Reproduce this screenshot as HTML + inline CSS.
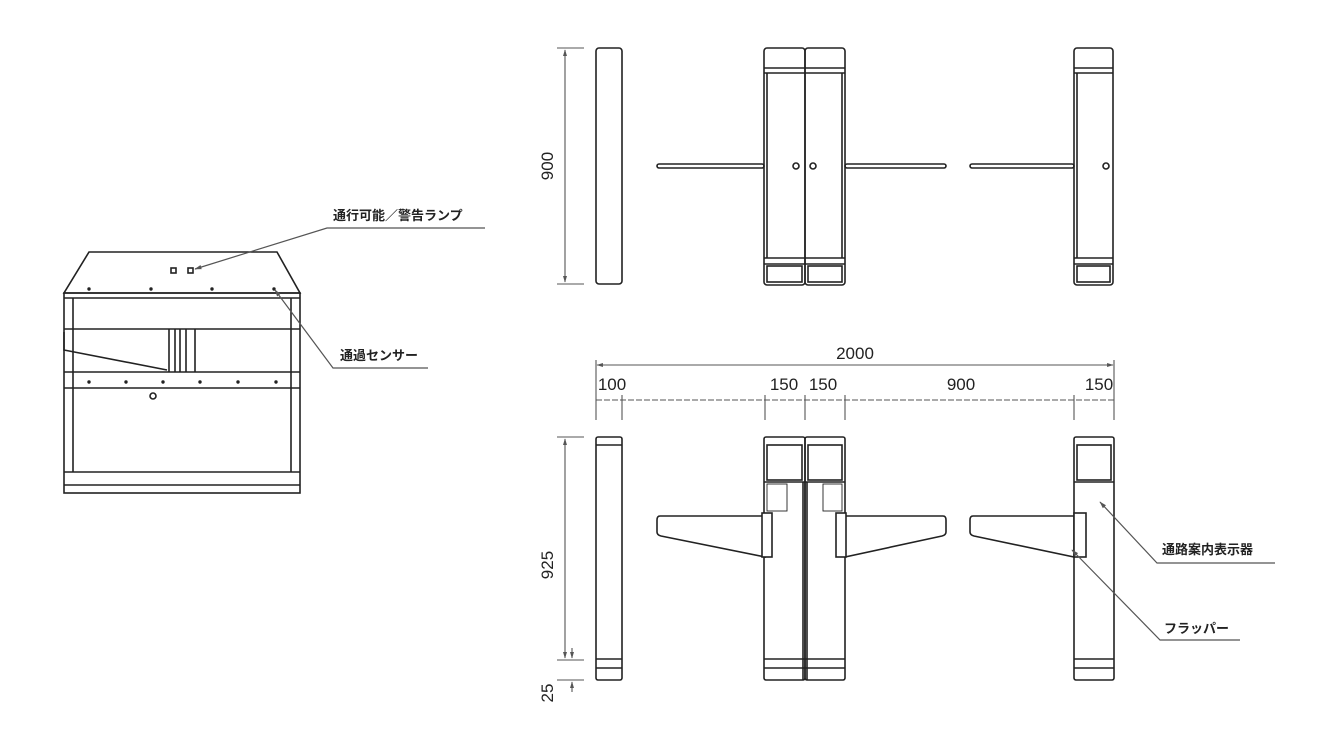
<!DOCTYPE html>
<html><head><meta charset="utf-8"><style>
html,body{margin:0;padding:0;background:#fff;}
svg{display:block;}
text{font-family:"Liberation Sans","Noto Sans CJK JP",sans-serif;fill:#222;}
</style></head><body>
<svg width="1340" height="756" viewBox="0 0 1340 756" xmlns="http://www.w3.org/2000/svg">
<defs>
<marker id="ar" viewBox="0 0 10 10" refX="9" refY="5" markerWidth="6" markerHeight="6" orient="auto-start-reverse"><path d="M0,2 L10,5 L0,8 z" fill="#555"/></marker>
</defs>
<g fill="none" stroke="#222" stroke-width="1.6">
<path d="M89,252 L277,252 L300,293 L64,293 Z"/>
<rect x="64" y="293" width="236" height="200"/>
<line x1="73" y1="298" x2="73" y2="472"/><line x1="291" y1="298" x2="291" y2="472"/>
<line x1="64" y1="298" x2="300" y2="298"/>
<line x1="64" y1="329" x2="300" y2="329"/>
<line x1="64" y1="372" x2="300" y2="372"/>
<line x1="64" y1="388" x2="300" y2="388"/>
<line x1="64" y1="472" x2="300" y2="472"/>
<line x1="64" y1="485" x2="300" y2="485"/>
<path d="M64,332 L64,350 L167,370"/>
<line x1="169" y1="329" x2="169" y2="372"/><line x1="175" y1="329" x2="175" y2="372"/>
<line x1="180" y1="329" x2="180" y2="372"/><line x1="186" y1="329" x2="186" y2="372"/>
<line x1="195" y1="329" x2="195" y2="372"/>
<rect x="171" y="268" width="5" height="5"/><rect x="188" y="268" width="5" height="5"/>
<circle cx="153" cy="396" r="3"/>
</g>
<g fill="#222">
<circle cx="89" cy="289" r="1.7"/><circle cx="151" cy="289" r="1.7"/><circle cx="212" cy="289" r="1.7"/><circle cx="274" cy="289" r="1.7"/>
<circle cx="89" cy="382" r="1.7"/><circle cx="126" cy="382" r="1.7"/><circle cx="163" cy="382" r="1.7"/><circle cx="200" cy="382" r="1.7"/><circle cx="238" cy="382" r="1.7"/><circle cx="276" cy="382" r="1.7"/>
</g>
<g fill="none" stroke="#555" stroke-width="1.2">
<polyline points="485,228 327,228 195,269" marker-end="url(#ar)"/>
<polyline points="428,368 333,368 275,290" marker-end="url(#ar)"/>
</g>
<text x="333" y="220" font-size="13" font-weight="bold">通行可能／警告ランプ</text>
<text x="340" y="360" font-size="13" font-weight="bold">通過センサー</text>

<g fill="none" stroke="#222" stroke-width="1.6">
<rect x="596" y="48" width="26" height="236" rx="3"/>
<rect x="764" y="48" width="41" height="237" rx="3"/>
<rect x="805" y="48" width="40" height="237" rx="3"/>
<line x1="764" y1="68" x2="845" y2="68"/><line x1="764" y1="73" x2="845" y2="73"/>
<line x1="764" y1="258" x2="845" y2="258"/><line x1="764" y1="264" x2="845" y2="264"/>
<rect x="767" y="266" width="35" height="16"/><rect x="808" y="266" width="34" height="16"/>
<line x1="767" y1="73" x2="767" y2="258"/><line x1="842" y1="73" x2="842" y2="258"/>
<rect x="657" y="164" width="107" height="4" rx="2"/>
<rect x="845" y="164" width="101" height="4" rx="2"/>
<circle cx="796" cy="166" r="3"/><circle cx="813" cy="166" r="3"/>
<rect x="1074" y="48" width="39" height="237" rx="3"/>
<line x1="1074" y1="68" x2="1113" y2="68"/><line x1="1074" y1="73" x2="1113" y2="73"/>
<line x1="1074" y1="258" x2="1113" y2="258"/><line x1="1074" y1="264" x2="1113" y2="264"/>
<rect x="1077" y="266" width="33" height="16"/>
<line x1="1077" y1="73" x2="1077" y2="258"/>
<rect x="970" y="164" width="104" height="4" rx="2"/>
<circle cx="1106" cy="166" r="3"/>
</g>
<g stroke="#555" stroke-width="1.1" fill="none">
<line x1="557" y1="48" x2="584" y2="48"/><line x1="557" y1="284" x2="584" y2="284"/>
<line x1="565" y1="50" x2="565" y2="282" marker-start="url(#ar)" marker-end="url(#ar)"/>
</g>
<text transform="translate(553,166) rotate(-90)" font-size="17" text-anchor="middle">900</text>

<g stroke="#555" stroke-width="1.1" fill="none">
<line x1="597" y1="365" x2="1113" y2="365" marker-start="url(#ar)" marker-end="url(#ar)"/>
<line x1="596" y1="360" x2="596" y2="420"/><line x1="1114" y1="360" x2="1114" y2="420"/>
<line x1="622" y1="395" x2="622" y2="420"/><line x1="765" y1="395" x2="765" y2="420"/>
<line x1="805" y1="395" x2="805" y2="420"/><line x1="845" y1="395" x2="845" y2="420"/>
<line x1="1074" y1="395" x2="1074" y2="420"/>
<line x1="596" y1="400" x2="1114" y2="400" stroke-dasharray="6,2"/>
<line x1="557" y1="437" x2="584" y2="437"/>
<line x1="565" y1="439" x2="565" y2="658" marker-start="url(#ar)" marker-end="url(#ar)"/>
<line x1="557" y1="660" x2="584" y2="660"/><line x1="557" y1="680" x2="584" y2="680"/>
<line x1="572" y1="648" x2="572" y2="658" marker-end="url(#ar)"/>
<line x1="572" y1="692" x2="572" y2="682" marker-end="url(#ar)"/>
</g>
<text x="855" y="359" font-size="17" text-anchor="middle">2000</text>
<text x="612" y="390" font-size="17" text-anchor="middle">100</text>
<text x="784" y="390" font-size="17" text-anchor="middle">150</text>
<text x="823" y="390" font-size="17" text-anchor="middle">150</text>
<text x="961" y="390" font-size="17" text-anchor="middle">900</text>
<text x="1099" y="390" font-size="17" text-anchor="middle">150</text>
<text transform="translate(553,565) rotate(-90)" font-size="17" text-anchor="middle">925</text>
<text transform="translate(553,693) rotate(-90)" font-size="17" text-anchor="middle">25</text>

<g fill="none" stroke="#222" stroke-width="1.6">
<rect x="596" y="437" width="26" height="243" rx="2"/>
<line x1="596" y1="445" x2="622" y2="445"/><line x1="596" y1="659" x2="622" y2="659"/><line x1="596" y1="668" x2="622" y2="668"/>
<rect x="764" y="437" width="41" height="243" rx="2"/>
<rect x="805" y="437" width="40" height="243" rx="2"/>
<rect x="767" y="445" width="35" height="35"/><rect x="808" y="445" width="34" height="35"/>
<line x1="764" y1="482" x2="845" y2="482"/>
<rect x="767" y="484" width="20" height="27" stroke-width="0.9"/><rect x="823" y="484" width="19" height="27" stroke-width="0.9"/>
<line x1="764" y1="659" x2="845" y2="659"/><line x1="764" y1="668" x2="845" y2="668"/>
<line x1="803" y1="482" x2="803" y2="680"/><line x1="807" y1="482" x2="807" y2="680"/>
<path d="M765,516 L660,516 Q657,516 657,520 L657,532 Q657,535 661,536 L765,557 Z" fill="#fff"/>
<rect x="762" y="513" width="10" height="44" fill="#fff"/>
<path d="M845,516 L943,516 Q946,516 946,520 L946,532 Q946,535 942,536 L845,557 Z" fill="#fff"/>
<rect x="836" y="513" width="10" height="44" fill="#fff"/>
<rect x="1074" y="437" width="40" height="243" rx="2"/>
<rect x="1077" y="445" width="34" height="35"/>
<line x1="1074" y1="482" x2="1114" y2="482"/>
<line x1="1074" y1="659" x2="1114" y2="659"/><line x1="1074" y1="668" x2="1114" y2="668"/>
<path d="M1074,516 L973,516 Q970,516 970,520 L970,532 Q970,535 974,536 L1074,557 Z" fill="#fff"/>
<rect x="1074" y="513" width="12" height="44" fill="#fff"/>
</g>
<g fill="none" stroke="#555" stroke-width="1.2">
<polyline points="1275,563 1157,563 1100,502" marker-end="url(#ar)"/>
<polyline points="1240,640 1160,640 1072,550" marker-end="url(#ar)"/>
</g>
<text x="1162" y="554" font-size="13" font-weight="bold">通路案内表示器</text>
<text x="1164" y="633" font-size="13" font-weight="bold">フラッパー</text>
</svg>
</body></html>
